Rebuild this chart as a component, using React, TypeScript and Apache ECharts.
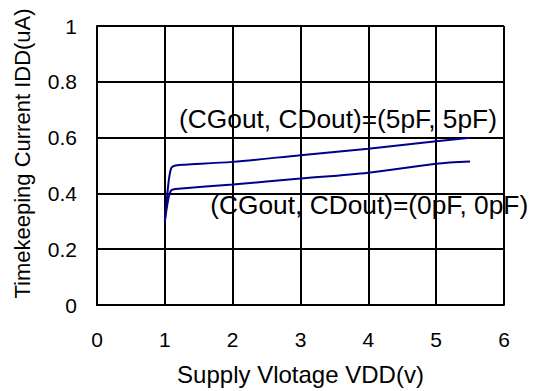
import React, { useEffect, useRef } from "react";
import * as echarts from "echarts";

const xTicks = [0, 1, 2, 3, 4, 5, 6];
const yTicks = [0, 0.2, 0.4, 0.6, 0.8, 1];

const vdd5pF = [1.0, 1.03, 1.06, 1.09, 1.12, 1.18, 1.3, 2, 3, 4, 5, 5.5];
const idd5pF = [0.3, 0.38, 0.45, 0.488, 0.497, 0.501, 0.503, 0.513, 0.537, 0.56, 0.587, 0.599];

const vdd0pF = [1.0, 1.03, 1.06, 1.09, 1.12, 1.2, 2, 3, 4, 5, 5.5];
const idd0pF = [0.3, 0.35, 0.39, 0.41, 0.414, 0.417, 0.432, 0.453, 0.474, 0.506, 0.514];

const label5pF = "(CGout, CDout)=(5pF, 5pF)";
const label0pF = "(CGout, CDout)=(0pF, 0pF)";
const label5pFAt = [1.21, 0.666];
const label0pFAt = [1.67, 0.357];

const xName = "Supply Vlotage VDD(v)";
const yName = "Timekeeping Current IDD(uA)";

const FONT = "'Liberation Sans', Arial, sans-serif";
const LINE_COLOR = "#00008c";

export default function App() {
  const ref = useRef<HTMLDivElement>(null);
  useEffect(() => {
    if (!ref.current) return;
    const chart = echarts.init(ref.current, null, { renderer: "svg" });
    const pair = (xs: number[], ys: number[]) => xs.map((x, i) => [x, ys[i]]);
    const annot = (text: string, at: number[]) => ({
      symbol: "circle",
      symbolSize: 0,
      silent: true,
      data: [
        {
          coord: at,
          label: {
            show: true,
            position: "right",
            distance: 0,
            formatter: text,
            color: "#000",
            fontSize: 26.3,
            fontFamily: FONT,
          },
        },
      ],
    });
    chart.setOption({
      animation: false,
      backgroundColor: "#fff",
      textStyle: { fontFamily: FONT },
      grid: { left: 97, right: 29, top: 26, bottom: 85, containLabel: false },
      xAxis: {
        type: "value",
        min: xTicks[0],
        max: xTicks[xTicks.length - 1],
        interval: 1,
        name: xName,
        nameLocation: "middle",
        nameGap: 57,
        nameTextStyle: { fontSize: 24, color: "#000", fontFamily: FONT },
        axisLine: { show: true, onZero: false, lineStyle: { color: "#000", width: 2 } },
        axisTick: { show: false },
        axisLabel: { fontSize: 21, color: "#000", margin: 24, fontFamily: FONT },
        splitLine: { show: true, lineStyle: { color: "#000", width: 2 } },
      },
      yAxis: {
        type: "value",
        min: yTicks[0],
        max: yTicks[yTicks.length - 1],
        interval: 0.2,
        name: yName,
        nameLocation: "middle",
        nameGap: 64,
        nameRotate: 90,
        nameTextStyle: { fontSize: 22, color: "#000", fontFamily: FONT, padding: [0, 0, 0, 24] },
        axisLine: { show: true, lineStyle: { color: "#000", width: 2 } },
        axisTick: { show: false },
        axisLabel: {
          fontSize: 21,
          color: "#000",
          margin: 20,
          fontFamily: FONT,
          formatter: (v: number) => String(Math.round(v * 10) / 10),
        },
        splitLine: { show: true, lineStyle: { color: "#000", width: 2 } },
      },
      series: [
        {
          name: "5pF",
          type: "line",
          data: pair(vdd5pF, idd5pF),
          showSymbol: false,
          smooth: 0.3,
          lineStyle: { color: LINE_COLOR, width: 2 },
          z: 5,
          markPoint: annot(label5pF, label5pFAt),
        },
        {
          name: "0pF",
          type: "line",
          data: pair(vdd0pF, idd0pF),
          showSymbol: false,
          smooth: 0.3,
          lineStyle: { color: LINE_COLOR, width: 2 },
          z: 5,
          markPoint: annot(label0pF, label0pFAt),
        },
      ],
    });
    return () => chart.dispose();
  }, []);
  return (
    <div
      ref={ref}
      style={{ position: "fixed", left: 0, top: 0, width: 533, height: 391, background: "#fff" }}
    />
  );
}
